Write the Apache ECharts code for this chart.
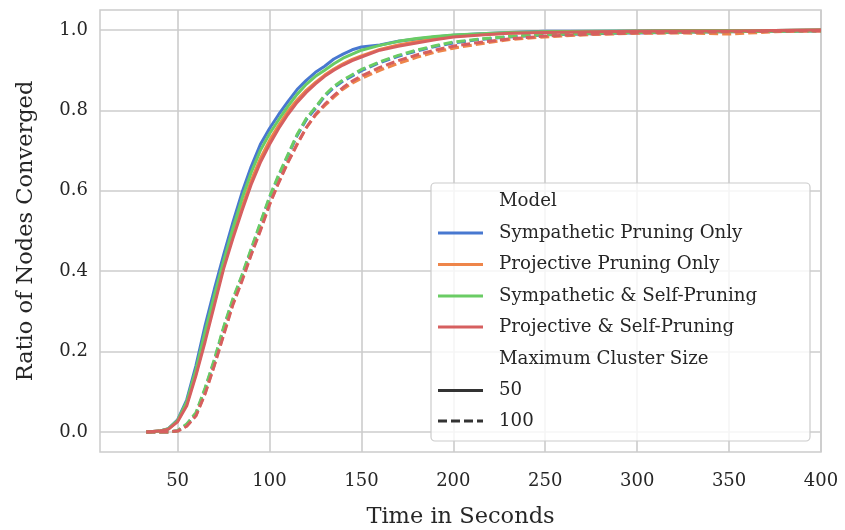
<!DOCTYPE html>
<html>
<head>
<meta charset="utf-8">
<script src="https://cdn.jsdelivr.net/npm/echarts@6/dist/echarts.min.js"></script>
<style>
html,body{margin:0;padding:0;background:#fff;}
#chart{width:845px;height:530px;}
</style>
</head>
<body>
<div id="chart"></div>
<script>
// ---- data ----
const times = [33, 40, 45, 50, 55, 60, 65, 70, 75, 80, 85, 90, 95, 100, 105, 110, 115, 120, 125, 130, 135, 140, 145, 150, 160, 170, 180, 190, 200, 215, 230, 250, 275, 300, 325, 350, 375, 400];

const sympOnly50 = [0, 0.002, 0.008, 0.03, 0.08, 0.165, 0.265, 0.355, 0.44, 0.52, 0.595, 0.66, 0.715, 0.755, 0.79, 0.822, 0.852, 0.875, 0.895, 0.91, 0.928, 0.94, 0.951, 0.958, 0.963, 0.972, 0.978, 0.983, 0.987, 0.991, 0.994, 0.997, 0.997, 0.998, 0.999, 0.999, 0.999, 1.0];
const projOnly50 = [0, 0.002, 0.007, 0.027, 0.07, 0.145, 0.232, 0.322, 0.412, 0.49, 0.56, 0.625, 0.68, 0.725, 0.763, 0.798, 0.826, 0.85, 0.87, 0.888, 0.903, 0.916, 0.927, 0.936, 0.952, 0.963, 0.971, 0.978, 0.984, 0.989, 0.992, 0.995, 0.996, 0.997, 0.998, 0.998, 0.999, 1.0];
const sympSelf50 = [0, 0.002, 0.008, 0.028, 0.075, 0.155, 0.25, 0.34, 0.425, 0.505, 0.58, 0.645, 0.7, 0.742, 0.777, 0.81, 0.84, 0.865, 0.885, 0.9, 0.916, 0.93, 0.94, 0.95, 0.962, 0.972, 0.979, 0.984, 0.988, 0.991, 0.994, 0.996, 0.997, 0.998, 0.999, 0.999, 0.999, 1.0];
const projSelf50 = [0, 0.002, 0.007, 0.025, 0.065, 0.14, 0.225, 0.315, 0.405, 0.48, 0.55, 0.615, 0.67, 0.715, 0.755, 0.79, 0.82, 0.845, 0.866, 0.885, 0.9, 0.913, 0.924, 0.933, 0.95, 0.96, 0.968, 0.976, 0.983, 0.988, 0.992, 0.994, 0.996, 0.997, 0.998, 0.998, 0.999, 1.0];

const sympOnly100 = [0, 0, 0, 0.003, 0.018, 0.045, 0.107, 0.177, 0.257, 0.327, 0.387, 0.452, 0.517, 0.582, 0.637, 0.687, 0.737, 0.777, 0.805, 0.835, 0.857, 0.873, 0.886, 0.899, 0.919, 0.935, 0.948, 0.959, 0.968, 0.977, 0.983, 0.988, 0.991, 0.993, 0.995, 0.996, 0.997, 0.998];
const projOnly100 = [0, 0, 0, 0.002, 0.015, 0.041, 0.097, 0.167, 0.243, 0.318, 0.378, 0.443, 0.503, 0.567, 0.622, 0.672, 0.717, 0.757, 0.788, 0.812, 0.833, 0.853, 0.868, 0.88, 0.9, 0.917, 0.932, 0.945, 0.955, 0.966, 0.976, 0.983, 0.989, 0.992, 0.993, 0.99, 0.996, 0.998];
const sympSelf100 = [0, 0, 0, 0.003, 0.02, 0.048, 0.11, 0.18, 0.26, 0.33, 0.39, 0.455, 0.52, 0.585, 0.64, 0.69, 0.74, 0.78, 0.808, 0.838, 0.86, 0.876, 0.889, 0.902, 0.921, 0.937, 0.95, 0.961, 0.97, 0.978, 0.984, 0.989, 0.992, 0.994, 0.995, 0.996, 0.997, 0.998];
const projSelf100 = [0, 0, 0, 0.002, 0.014, 0.04, 0.095, 0.165, 0.24, 0.315, 0.375, 0.44, 0.5, 0.565, 0.62, 0.67, 0.715, 0.757, 0.79, 0.815, 0.837, 0.857, 0.873, 0.886, 0.907, 0.924, 0.938, 0.95, 0.96, 0.97, 0.978, 0.985, 0.99, 0.993, 0.994, 0.996, 0.997, 0.998];

const modelNames = ['Sympathetic Pruning Only', 'Projective Pruning Only', 'Sympathetic & Self-Pruning', 'Projective & Self-Pruning'];
const sizeNames = ['50', '100'];
const xTicks = [50, 100, 150, 200, 250, 300, 350, 400];
const yTicks = [0, 0.2, 0.4, 0.6, 0.8, 1.0];

// ---- styling ----
const colors = ['#4878d0', '#ee854a', '#6acc64', '#d65f5f'];
const FONT = '"DejaVu Serif", serif';
const TXT = '#262626';
const LINE_W = 3;
const DASH = [9, 4];

const seriesValues = [
  [sympOnly50, sympOnly100],
  [projOnly50, projOnly100],
  [sympSelf50, sympSelf100],
  [projSelf50, projSelf100]
];

const series = [];
modelNames.forEach((m, mi) => {
  sizeNames.forEach((s, si) => {
    series.push({
      name: m + ' / ' + s,
      type: 'line',
      showSymbol: false,
      symbol: 'none',
      animation: false,
      data: times.map((t, i) => [t, seriesValues[mi][si][i]]),
      lineStyle: { color: colors[mi], width: LINE_W, type: si === 0 ? 'solid' : DASH, cap: 'butt' },
      itemStyle: { color: colors[mi] },
      z: 2 + mi
    });
  });
});

// legend drawn as graphic
const LX = 431, LY = 183, LW = 379, LH = 258;
const rowsY = [201.5, 233, 264.5, 296, 327, 359, 390.5, 421];
const legendItems = [
  { label: 'Model', color: null },
  { label: modelNames[0], color: colors[0], dash: 'solid' },
  { label: modelNames[1], color: colors[1], dash: 'solid' },
  { label: modelNames[2], color: colors[2], dash: 'solid' },
  { label: modelNames[3], color: colors[3], dash: 'solid' },
  { label: 'Maximum Cluster Size', color: null },
  { label: sizeNames[0], color: '#333333', dash: 'solid' },
  { label: sizeNames[1], color: '#333333', dash: DASH }
];
const graphic = [{
  type: 'rect', z: 100,
  shape: { x: LX, y: LY, width: LW, height: LH, r: 4 },
  style: { fill: 'rgba(255,255,255,0.8)', stroke: '#cccccc', lineWidth: 1.2 }
}];
legendItems.forEach((it, i) => {
  if (it.color) {
    graphic.push({
      type: 'line', z: 101,
      shape: { x1: 438, y1: rowsY[i], x2: 483, y2: rowsY[i] },
      style: { stroke: it.color, lineWidth: LINE_W, lineDash: it.dash === 'solid' ? null : it.dash }
    });
  }
  graphic.push({
    type: 'text', z: 101,
    style: { text: it.label, x: 499, y: rowsY[i], fill: TXT, font: '18.2px ' + FONT, verticalAlign: 'middle', align: 'left' }
  });
});

const chart = echarts.init(document.getElementById('chart'), null, { renderer: 'canvas' });
chart.setOption({
  animation: false,
  backgroundColor: '#ffffff',
  grid: { left: 100, right: 24, top: 10, bottom: 78, show: true, borderColor: '#cccccc', borderWidth: 1.5, containLabel: false, outerBoundsMode: 'none' },
  xAxis: {
    type: 'value', min: 7.8, max: 400,
    name: 'Time in Seconds', nameLocation: 'middle', nameGap: 54,
    nameTextStyle: { fontFamily: FONT, fontSize: 22.5, color: TXT },
    axisLine: { show: false },
    axisTick: { show: false, customValues: xTicks },
    axisLabel: { customValues: xTicks, fontFamily: FONT, fontSize: 18, color: TXT, margin: 20, formatter: v => String(Math.round(v)) },
    splitLine: { show: true, lineStyle: { color: '#cccccc', width: 1.6 } }
  },
  yAxis: {
    type: 'value', min: -0.05, max: 1.05,
    name: 'Ratio of Nodes Converged', nameLocation: 'middle', nameGap: 62,
    nameTextStyle: { fontFamily: FONT, fontSize: 22.5, color: TXT },
    axisLine: { show: false },
    axisTick: { show: false, customValues: yTicks },
    axisLabel: { customValues: yTicks, fontFamily: FONT, fontSize: 18, color: TXT, margin: 12, formatter: v => v.toFixed(1) },
    splitLine: { show: true, lineStyle: { color: '#cccccc', width: 1.6 } }
  },
  series: series,
  graphic: graphic
});
</script>
</body>
</html>
